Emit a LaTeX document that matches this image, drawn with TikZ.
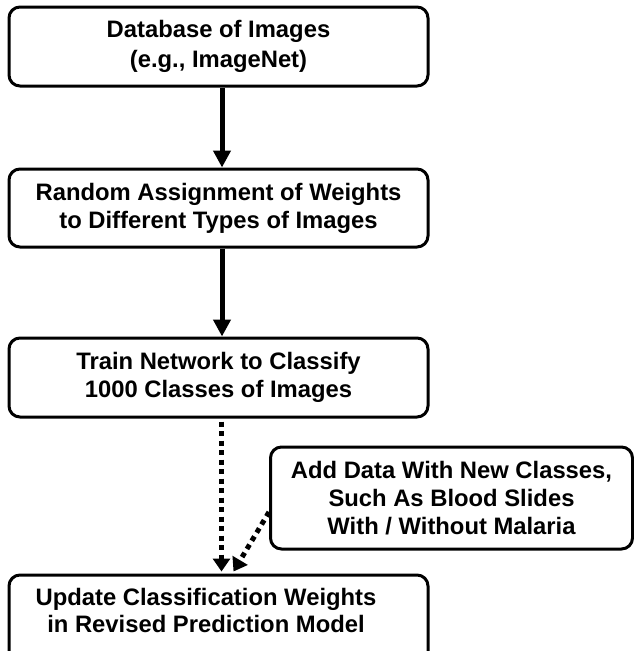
\documentclass[tikz,border=0pt]{standalone}
\usepackage{fontspec}
\setmainfont{Liberation Sans}
\usetikzlibrary{arrows.meta}
\begin{document}
\begin{tikzpicture}[x=1pt,y=-1pt,
  box/.style={draw, line width=3pt, rounded corners=11pt, inner sep=0pt, align=center,
    font=\fontsize{23.8}{28}\selectfont\bfseries},
  boxtext/.style={inner sep=0pt, align=center, font=\fontsize{23.8}{27}\selectfont\bfseries},
  solidarrow/.style={line width=5pt, -{Triangle[length=17pt,width=17pt]}},
  dotarrow/.style={line width=5pt, dash pattern=on 5pt off 4.5pt, -{Triangle[length=13pt,width=17pt]}}]
\useasboundingbox (0,0) rectangle (634,651);

\node[box, minimum width=419pt, minimum height=79pt] (b1) at (218.5,46.5)
  {Database of Images\\[2pt](e.g., ImageNet)};
\node[box, minimum width=419pt, minimum height=78pt] (b2) at (218.5,208)
  {Random Assignment of Weights\\to Different Types of Images};
\node[box, minimum width=419pt, minimum height=79pt] (b3) at (218.5,377.5)
  {Train Network to Classify\\1000 Classes of Images};
\node[box, minimum width=419pt, minimum height=105pt] (b4) at (218.5,627.5) {};
\node[boxtext] (t4) at (206,610.5)
  {Update Classification Weights\\in Revised Prediction Model};
\node[box, minimum width=362pt, minimum height=102pt] (side) at (451.5,498)
  {Add Data With New Classes,\\Such As Blood Slides\\With / Without Malaria};

\draw[solidarrow] ([xshift=3.5pt]b1.south) -- ([xshift=3.5pt]b2.north);
\draw[solidarrow] ([xshift=3.5pt]b2.south) -- ([xshift=3.5pt]b3.north);
\draw[dotarrow] ([xshift=3pt,yshift=-3pt]b3.south) -- ([xshift=3pt,yshift=2pt]b4.north);
\draw[dotarrow] ([yshift=-14pt]side.west) -- ([xshift=15pt,yshift=2pt]b4.north);
\end{tikzpicture}
\end{document}
